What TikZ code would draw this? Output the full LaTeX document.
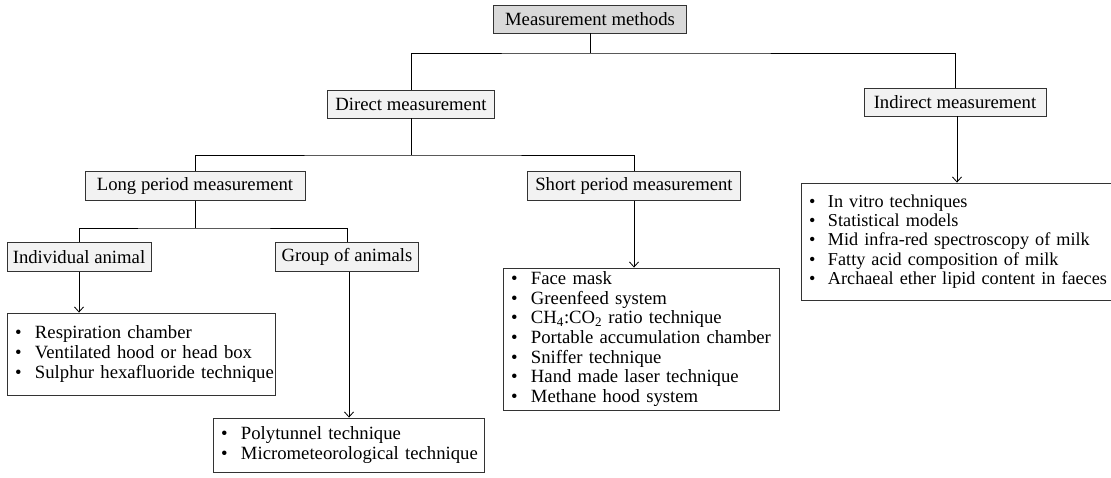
\documentclass[tikz,border=0pt]{standalone}
\usepackage{fontspec}
\setmainfont{Liberation Serif}
\usetikzlibrary{arrows.meta}

% bullet item used in the list boxes
\newcommand{\bitem}[1]{\mbox{\makebox[20pt][l]{\textbullet}#1}}
\newcommand{\bitemn}[1]{\mbox{\makebox[19pt][l]{\textbullet}#1}}

\tikzset{
  box/.style={draw=black!80, line width=0.9pt, inner sep=0pt,
    font=\fontsize{18.7}{19.6}\selectfont},
  topbox/.style={box, fill=black!15},
  catbox/.style={box, fill=black!5},
  listbox/.style={box, fill=white, align=left, inner xsep=8pt},
  link/.style={line width=1pt, black},
  arr/.style={link, -{Straight Barb[length=5pt,width=9pt,line width=0.8pt]}},
}

\begin{document}
\begin{tikzpicture}[x=1pt, y=-1pt]
\useasboundingbox (0,0) rectangle (1111,477);

% headings
\node[topbox, minimum width=193pt, minimum height=28pt] (m) at (590,19) {Measurement methods};
\node[catbox, minimum width=167pt, minimum height=28pt] (d) at (411,104) {Direct measurement};
\node[catbox, minimum width=182pt, minimum height=28pt] (i) at (955,102) {Indirect measurement};
\node[catbox, minimum width=220pt, minimum height=29pt] (l) at (195,186) {Long period measurement};
\node[catbox, minimum width=213pt, minimum height=29pt] (s) at (634,186) {Short period measurement};
\node[catbox, minimum width=144pt, minimum height=29pt] (ia) at (79,257) {Individual animal};
\node[catbox, minimum width=143pt, minimum height=29pt] (g) at (347,257) {Group of animals};

% lists of techniques
\node[listbox, text width=252pt, minimum height=82pt] (rl) at (141,354) {%
  \bitem{Respiration chamber}\\
  \bitem{Ventilated hood or head box}\\
  \bitem{Sulphur hexafluoride technique}};
\node[listbox, text width=255pt, minimum height=54pt] (pl) at (348.5,445) {%
  \bitem{Polytunnel technique}\\
  \bitem{Micrometeorological technique}};
\node[listbox, text width=260pt, minimum height=142pt] (sl) at (641,339) {%
  \bitem{Face mask}\\
  \bitem{Greenfeed system}\\
  \bitem{CH\textsubscript{4}:CO\textsubscript{2} ratio technique}\\
  \bitem{Portable accumulation chamber}\\
  \bitem{Sniffer technique}\\
  \bitem{Hand made laser technique}\\
  \bitem{Methane hood system}};
\node[listbox, text width=300pt, minimum height=117pt,
      font=\fontsize{18.2}{19.4}\selectfont] (il) at (959,241.5) {%
  \bitemn{In vitro techniques}\\
  \bitemn{Statistical models}\\
  \bitemn{Mid infra-red spectroscopy of milk}\\
  \bitemn{Fatty acid composition of milk}\\
  \bitemn{Archaeal ether lipid content in faeces}};

% branching points
\coordinate (b1) at (590,53);
\coordinate (b2) at (411,155);
\coordinate (b3) at (195,228);

% tree connectors
\draw[link] (m.south) -- (b1);
\draw[link] (d.north) |- (b1) -| (i.north);
\draw[link] (d.south) -- (b2);
\draw[link] (l.north) |- (b2) -| (s.north);
\draw[link] (l.south) -- (b3);
\draw[link] (ia.north) |- (b3) -| (g.north);

% arrows to the lists
\draw[arr] (ia.south) -- (ia.south |- rl.north);
\draw[arr] ([xshift=2pt]g.south) -- ([xshift=2pt]g.south |- pl.north);
\draw[arr] (s.south) -- (s.south |- sl.north);
\draw[arr] ([xshift=2pt]i.south) -- ([xshift=2pt]i.south |- il.north);
\end{tikzpicture}
\end{document}
